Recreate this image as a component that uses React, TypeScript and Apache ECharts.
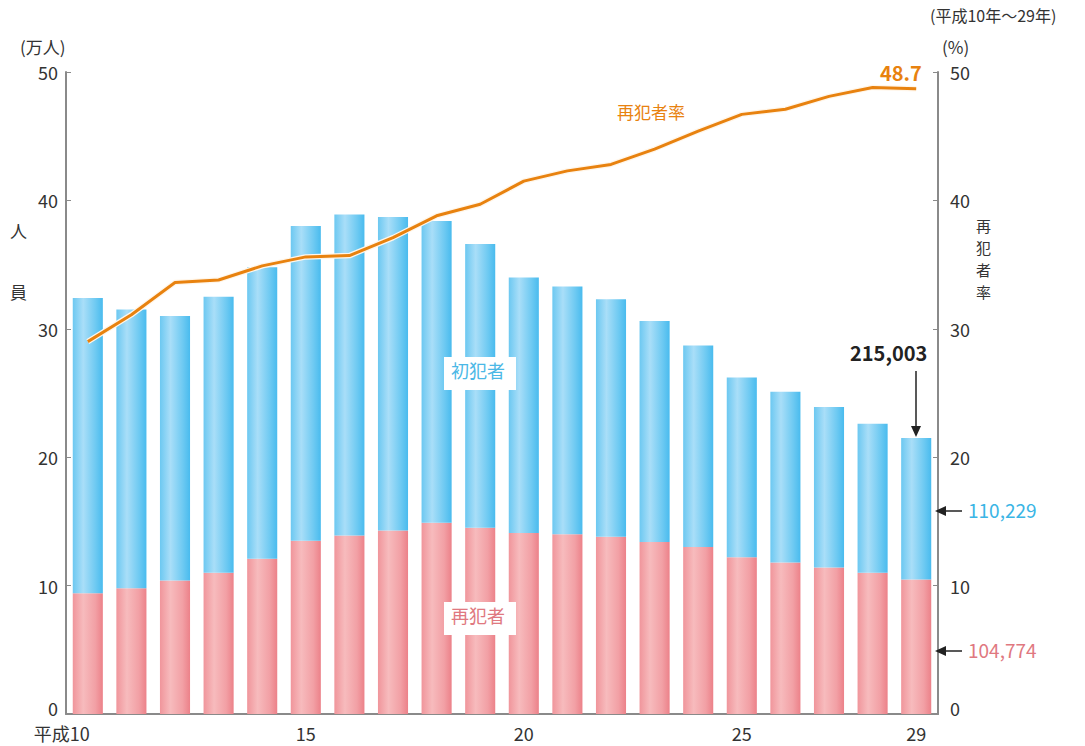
import React, { useEffect, useRef } from "react";
import * as echarts from "echarts";

const years = ["10","11","12","13","14","15","16","17","18","19","20","21","22","23","24","25","26","27","28","29"];
const totals = [32.4, 31.5, 31.0, 32.5, 34.8, 38.0, 38.9, 38.7, 38.4, 36.6, 34.0, 33.3, 32.3, 30.6, 28.7, 26.2, 25.1, 23.9, 22.6, 21.5003];
const repeaters = [9.4, 9.8, 10.4, 11.0, 12.1, 13.5, 13.9, 14.3, 14.9, 14.5, 14.1, 14.0, 13.8, 13.4, 13.0, 12.2, 11.8, 11.4, 11.0, 10.4774];
const firstTimers = totals.map((t, i) => +(t - repeaters[i]).toFixed(4));
const rate = [29.0, 31.1, 33.6, 33.8, 34.9, 35.6, 35.7, 37.1, 38.8, 39.7, 41.5, 42.3, 42.8, 44.0, 45.4, 46.7, 47.1, 48.1, 48.8, 48.7];
const shownLabels = [0, 5, 10, 15, 19];

const FONT = '"Noto Sans CJK JP", "Noto Sans", sans-serif';
const TXT = "#333";

export default function App() {
  const ref = useRef<HTMLDivElement>(null);
  useEffect(() => {
    const chart = echarts.init(ref.current!, null, { renderer: "svg" });
    const blueGrad = new echarts.graphic.LinearGradient(0, 0, 1, 0, [
      { offset: 0, color: "#6cc8f1" },
      { offset: 0.35, color: "#a9def8" },
      { offset: 0.75, color: "#6fcaf2" },
      { offset: 1, color: "#49bbee" },
    ]);
    const pinkGrad = new echarts.graphic.LinearGradient(0, 0, 1, 0, [
      { offset: 0, color: "#f0959b" },
      { offset: 0.35, color: "#f7bbbd" },
      { offset: 0.75, color: "#f2a0a5" },
      { offset: 1, color: "#ec8189" },
    ]);
    const axisLine = { show: true, lineStyle: { color: "#8a8a8a", width: 2 } };
    const vert = ["再", "犯", "者", "率"].map((c, i) => ({
      type: "text", left: 976, top: 218 + i * 22, style: { text: c, font: `15px ${FONT}`, fill: TXT },
    }));
    const yLabel = (margin: number) => ({
      color: TXT,
      fontSize: 18,
      fontFamily: FONT,
      margin,
      formatter: (v: number) => (v === 0 ? "{z|0}" : String(v)),
      rich: { z: { fontSize: 18, color: TXT, fontFamily: FONT, padding: [0, 0, 12, 0] } },
    });
    chart.setOption({
      animation: false,
      textStyle: { fontFamily: FONT },
      grid: { left: 66, right: 147, top: 72, bottom: 32, containLabel: false },
      xAxis: {
        type: "category",
        data: years,
        axisLine: { show: true, lineStyle: { color: "#8a8a8a", width: 2 } },
        axisTick: { show: false },
        axisLabel: {
          interval: (i: number) => shownLabels.includes(i),
          color: TXT,
          fontSize: 18,
          fontFamily: FONT,
          margin: 10,
          formatter: (v: string, i: number) => (i === 0 ? "{f|平成" + v + "}" : v),
          rich: { f: { fontSize: 18, color: TXT, fontFamily: FONT, padding: [0, 52, 0, 0] } },
        },
      },
      yAxis: [
        {
          type: "value",
          min: 0,
          max: 50,
          interval: 10,
          axisLine,
          axisTick: { show: true, inside: true, length: 5, lineStyle: { color: "#8a8a8a" } },
          splitLine: { show: false },
          axisLabel: yLabel(8),
        },
        {
          type: "value",
          min: 0,
          max: 50,
          interval: 10,
          axisLine,
          axisTick: { show: true, inside: true, length: 5, lineStyle: { color: "#8a8a8a" } },
          splitLine: { show: false },
          axisLabel: yLabel(12),
        },
      ],
      series: [
        {
          name: "再犯者",
          type: "bar",
          stack: "a",
          data: repeaters,
          barWidth: "69%",
          itemStyle: { color: pinkGrad },
        },
        {
          name: "初犯者",
          type: "bar",
          stack: "a",
          data: firstTimers,
          barWidth: "69%",
          itemStyle: { color: blueGrad },
        },
        {
          name: "halo",
          type: "line",
          yAxisIndex: 1,
          data: rate,
          symbol: "none",
          silent: true,
          lineStyle: { color: "#fff6ea", width: 5.5 },
          z: 3,
        },
        {
          name: "再犯者率",
          type: "line",
          yAxisIndex: 1,
          data: rate,
          symbol: "none",
          lineStyle: { color: "#e8820f", width: 3 },
          z: 4,
        },
      ],
      graphic: [
        { type: "text", left: 20, top: 38, style: { text: "(万人)", font: `17px ${FONT}`, fill: TXT } },
        { type: "text", left: 942, top: 38, style: { text: "(%)", font: `17px ${FONT}`, fill: TXT } },
        { type: "text", left: 930, top: 7, style: { text: "(平成10年～29年)", font: `16px ${FONT}`, fill: TXT } },
        { type: "text", left: 10, top: 222, style: { text: "人", font: `17px ${FONT}`, fill: TXT } },
        { type: "text", left: 10, top: 283, style: { text: "員", font: `17px ${FONT}`, fill: TXT } },
        ...vert,
        { type: "text", left: 617, top: 103, style: { text: "再犯者率", font: `17px ${FONT}`, fill: "#e8820f" } },
        { type: "text", left: 880, top: 62, style: { text: "48.7", font: `bold 20px ${FONT}`, fill: "#e8820f" } },
        { type: "rect", shape: { x: 444, y: 357, width: 72, height: 33 }, style: { fill: "#ffffff" }, z: 10 },
        { type: "text", left: 451, top: 361, z: 11, style: { text: "初犯者", font: `18px ${FONT}`, fill: "#4bb8e6" } },
        { type: "rect", shape: { x: 444, y: 602, width: 72, height: 33 }, style: { fill: "#ffffff" }, z: 10 },
        { type: "text", left: 451, top: 606, z: 11, style: { text: "再犯者", font: `18px ${FONT}`, fill: "#e07880" } },
        { type: "text", left: 850, top: 342, style: { text: "215,003", font: `bold 20px ${FONT}`, fill: "#222" } },
        { type: "line", shape: { x1: 916, y1: 371, x2: 916, y2: 428 }, style: { stroke: "#222", lineWidth: 1.5 }, z: 10 },
        { type: "polygon", shape: { points: [[911, 426], [921, 426], [916, 437]] }, style: { fill: "#222" }, z: 10 },
        { type: "line", shape: { x1: 944, y1: 511, x2: 962, y2: 511 }, style: { stroke: "#222", lineWidth: 1.5 }, z: 10 },
        { type: "polygon", shape: { points: [[946, 506], [946, 516], [935, 511]] }, style: { fill: "#222" }, z: 10 },
        { type: "text", left: 968, top: 500, style: { text: "110,229", font: `19px ${FONT}`, fill: "#3ab5e5" } },
        { type: "line", shape: { x1: 944, y1: 651, x2: 962, y2: 651 }, style: { stroke: "#222", lineWidth: 1.5 }, z: 10 },
        { type: "polygon", shape: { points: [[946, 646], [946, 656], [935, 651]] }, style: { fill: "#222" }, z: 10 },
        { type: "text", left: 968, top: 640, style: { text: "104,774", font: `19px ${FONT}`, fill: "#e07880" } },
      ],
    });
    return () => chart.dispose();
  }, []);
  return <div ref={ref} style={{ width: 1085, height: 746, position: "absolute", left: 0, top: 0, background: "#fff" }} />;
}
